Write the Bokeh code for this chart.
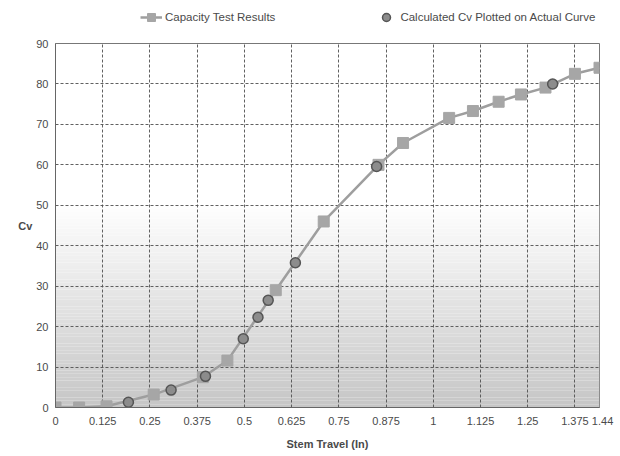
from bokeh.plotting import figure
from bokeh.layouts import column
from bokeh.models import (FixedTicker, Legend, LegendItem, Range1d, ColumnDataSource)
from bokeh.embed import file_html
from bokeh.resources import INLINE

# Capacity test results (stem travel in inches, Cv)
test_x = [0, 0.0625, 0.135, 0.26, 0.39, 0.455, 0.583, 0.71, 0.855, 0.92,
          1.042, 1.105, 1.173, 1.232, 1.297, 1.375, 1.44]
test_cv = [0, 0, 0.3, 3.2, 7.5, 11.6, 29, 46, 60, 65.4,
           71.6, 73.3, 75.6, 77.4, 79.1, 82.5, 84]

# Calculated Cv plotted on actual curve
calc_x = [0.193, 0.306, 0.397, 0.497, 0.536, 0.563, 0.635, 0.85, 1.316]
calc_cv = [1.3, 4.3, 7.7, 17, 22.3, 26.5, 35.8, 59.6, 80]

x_ticks = [0, 0.125, 0.25, 0.375, 0.5, 0.625, 0.75, 0.875, 1, 1.125, 1.25, 1.375, 1.44]
x_tick_labels = ["0", "0.125", "0.25", "0.375", "0.5", "0.625", "0.75", "0.875",
                 "1", "1.125", "1.25", "1.375", "\u00a0\u00a01.44"]
y_ticks = [0, 10, 20, 30, 40, 50, 60, 70, 80, 90]

FONT = "Liberation Sans"
TXT = "#4a4a4a"
LINE_C = "#9e9e9e"
SQ_C = "#a6a6a6"
CI_FILL = "#8c8c8c"
CI_LINE = "#555555"

p = figure(width=620, height=421, output_backend="svg", toolbar_location=None,
           x_range=Range1d(0, 1.44), y_range=Range1d(0, 90),
           min_border_left=55, min_border_right=21, min_border_top=8,
           min_border_bottom=49)
p.background_fill_color = "white"
p.border_fill_color = "white"
p.outline_line_color = "#777777"
p.outline_line_width = 1

# background gradient (white above 50, darkening toward 0)
n = 60
g_bottom, g_top = [], []
colors = []
for i in range(n):
    y0 = 50 * i / n
    y1 = 50 * (i + 1) / n
    t = (i + 0.5) / n
    c = int(198 + (255 - 198) * t)
    g_bottom.append(y0)
    g_top.append(y1)
    colors.append("#%02x%02x%02x" % (c, c, c))
p.quad(left=0, right=1.44, bottom=g_bottom, top=g_top, fill_color=colors,
       line_color=None, level="image")

# axes
p.xaxis.ticker = FixedTicker(ticks=x_ticks)
p.xaxis.major_label_overrides = {t: l for t, l in zip(x_ticks, x_tick_labels)}
p.yaxis.ticker = FixedTicker(ticks=y_ticks)
for ax in (p.xaxis[0], p.yaxis[0]):
    ax.major_label_text_font = FONT
    ax.major_label_text_font_size = "11px"
    ax.major_label_text_color = TXT
    ax.axis_label_text_font = FONT
    ax.axis_label_text_font_size = "11px"
    ax.axis_label_text_font_style = "bold"
    ax.axis_label_text_color = TXT
    ax.axis_line_color = "#666666"
    ax.major_tick_out = 0
    ax.major_tick_in = 0
    ax.minor_tick_out = 0
    ax.minor_tick_in = 0
p.xaxis.axis_label = "Stem Travel (In)"
p.xaxis.major_label_standoff = 7
p.xaxis.axis_label_standoff = 8
p.yaxis.axis_label = "Cv"
p.yaxis.axis_label_orientation = "horizontal"
p.yaxis.major_label_standoff = 7
p.yaxis.axis_label_standoff = 1

for g in (p.xgrid[0], p.ygrid[0]):
    g.grid_line_color = "#505050"
    g.grid_line_dash = "3 2"
    g.grid_line_width = 1
    g.grid_line_alpha = 0.9
p.xgrid.ticker = FixedTicker(ticks=x_ticks)
p.ygrid.ticker = FixedTicker(ticks=y_ticks)

src_t = ColumnDataSource(dict(x=test_x, y=test_cv))
src_c = ColumnDataSource(dict(x=calc_x, y=calc_cv))

p.line("x", "y", source=src_t, line_color=LINE_C, line_width=2.5)
p.scatter("x", "y", source=src_t, marker="square", size=11,
          fill_color=SQ_C, line_color=SQ_C)
p.scatter("x", "y", source=src_c, marker="circle", size=10,
          fill_color=CI_FILL, line_color=CI_LINE, line_width=1.5)

# legend strip above the plot (legend-only renderers hold no visible data)
lg = figure(width=620, height=35, output_backend="svg", toolbar_location=None,
            x_range=Range1d(0, 1), y_range=Range1d(0, 1),
            x_axis_type=None, y_axis_type=None,
            min_border_left=0, min_border_right=0, min_border_top=0,
            min_border_bottom=0)
lg.outline_line_color = None
lg.xgrid.visible = False
lg.ygrid.visible = False
nan_src = dict(x=[float("nan")], y=[float("nan")])
l_ln = lg.line("x", "y", source=ColumnDataSource(nan_src), line_color=LINE_C, line_width=2.5)
l_sq = lg.scatter("x", "y", source=ColumnDataSource(nan_src), marker="square", size=11,
                  fill_color=SQ_C, line_color=SQ_C)
l_ci = lg.scatter("x", "y", source=ColumnDataSource(nan_src), marker="circle", size=10,
                  fill_color=CI_FILL, line_color=CI_LINE, line_width=1.5)
legend = Legend(items=[LegendItem(label="Capacity Test Results", renderers=[l_ln, l_sq]),
                       LegendItem(label="Calculated Cv Plotted on Actual Curve", renderers=[l_ci])],
                orientation="horizontal", location=(85, 8),
                label_text_font=FONT, label_text_font_size="11.5px",
                label_text_color=TXT, spacing=100, glyph_width=22,
                label_standoff=3, border_line_color=None,
                background_fill_alpha=0, padding=0, margin=0)
lg.add_layout(legend, "center")

layout = column(lg, p, spacing=0)
open("out.html", "w").write(file_html(layout, INLINE))
